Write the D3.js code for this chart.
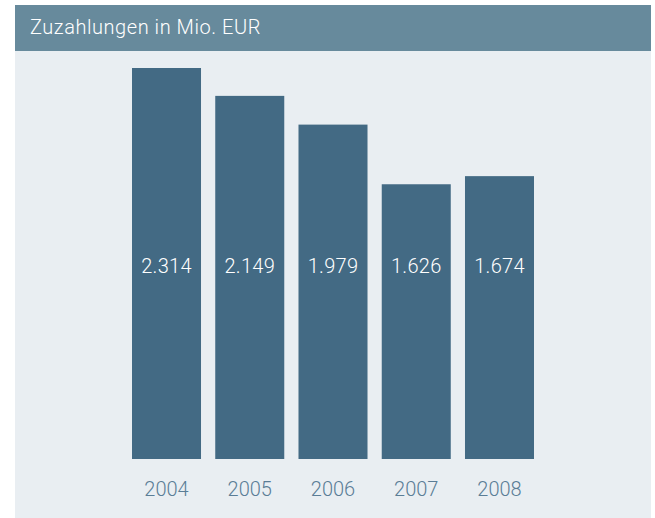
<!DOCTYPE html>
<html><head><meta charset="utf-8">
<script src="https://cdn.jsdelivr.net/npm/d3@7"></script>
<style>html,body{margin:0;padding:0;background:#fff;}svg{display:block;}</style>
</head><body>
<script>
const title = "Zuzahlungen in Mio. EUR";
const years = ["2004","2005","2006","2007","2008"];
const values = [2314, 2149, 1979, 1626, 1674];
const valueLabels = ["2.314","2.149","1.979","1.626","1.674"];

const W = 655, H = 518;
const svg = d3.select("body").append("svg").attr("width", W).attr("height", H);
const font = "Roboto, 'Liberation Sans', sans-serif";

svg.append("rect").attr("x", 15).attr("y", 51).attr("width", 636).attr("height", H - 51).attr("fill", "#e9eef2");
svg.append("rect").attr("x", 15).attr("y", 5).attr("width", 636).attr("height", 46).attr("fill", "#678a9c");
svg.append("text").attr("x", 30).attr("y", 34).text(title)
  .attr("fill", "#fff").attr("font-family", font).attr("font-weight", 300).attr("font-size", 20)
  .attr("letter-spacing", 0.55);

const x = d3.scaleBand().domain(years).range([132, 534]).paddingInner(0.171).paddingOuter(0);
const y = d3.scaleLinear().domain([0, 2314]).range([459, 68]);

const g = svg.append("g");
g.selectAll("rect.bar").data(years).join("rect").attr("class", "bar")
  .attr("x", d => x(d)).attr("width", x.bandwidth())
  .attr("y", (d, i) => y(values[i])).attr("height", (d, i) => y(0) - y(values[i]))
  .attr("fill", "#436a84");

g.selectAll("text.val").data(years).join("text").attr("class", "val")
  .attr("x", d => x(d) + x.bandwidth() / 2).attr("y", 273)
  .attr("text-anchor", "middle").attr("fill", "#fff")
  .attr("font-family", font).attr("font-weight", 300).attr("font-size", 20)
  .attr("letter-spacing", 0.3)
  .text((d, i) => valueLabels[i]);

const axis = d3.axisBottom(x).tickSize(0).tickPadding(0);
const ax = svg.append("g").attr("transform", "translate(0,482)").call(axis);
ax.select(".domain").remove();
ax.selectAll("text").attr("fill", "#5a7d96").attr("font-family", font)
  .attr("font-weight", 300).attr("font-size", 20).attr("dy", "0.71em");
</script>
</body></html>
